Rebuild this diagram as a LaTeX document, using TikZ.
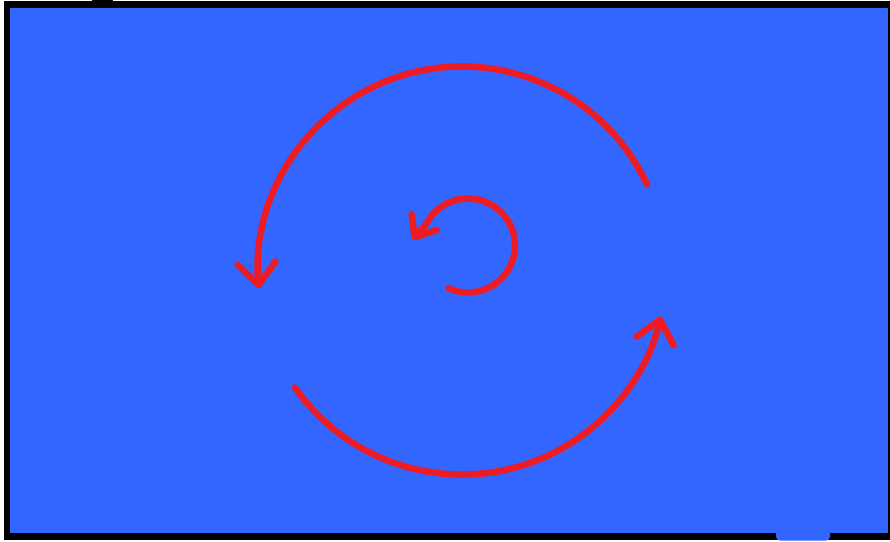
\documentclass[tikz,border=0pt]{standalone}
\usetikzlibrary{arrows.meta}
\definecolor{paintred}{RGB}{237,28,36}
\definecolor{paintblue}{RGB}{51,102,255}
\tikzset{
  redstroke/.style={draw=paintred, line width=6.5pt, line cap=round, line join=round},
  bigbarb/.style={-{Straight Barb[length=22pt,width=38pt,round]}},
  smallbarb/.style={-{Straight Barb[length=18pt,width=30pt,round]}}
}
\begin{document}
\begin{tikzpicture}[x=1pt,y=1pt]
  \useasboundingbox (0,0) rectangle (890,541);
  % frame
  \fill[black] (4,1) rectangle (889.5,539.5);
  \fill[paintblue] (10,8) rectangle (887.5,533);
  \fill[paintblue, rounded corners=4pt] (776,0.5) rectangle (830,12);
  \fill[black, rounded corners=2pt] (92,538) rectangle (113,542);
  % centres
  \coordinate (C) at (462,270.5);
  \coordinate (c) at (468,295.5);
  \coordinate (ctip) at (413,301);
  % large upper arc, arrow at left
  \draw[redstroke, bigbarb] ([shift={(25:204pt)}]C) arc[start angle=25, end angle=185, radius=204pt];
  % large lower arc, arrow at right
  \draw[redstroke, bigbarb] ([shift={(215:204pt)}]C) arc[start angle=215, end angle=347, radius=204pt];
  % small inner arc
  \draw[redstroke, smallbarb] ([shift={(-115:47pt)}]c) arc[start angle=-115, end angle=150, radius=47pt]
    to[out=240, in=58] (ctip);
\end{tikzpicture}
\end{document}
